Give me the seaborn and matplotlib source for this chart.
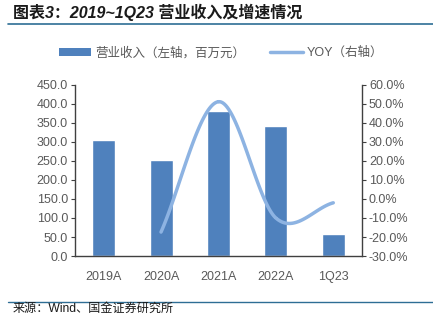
import numpy as np
import pandas as pd
import matplotlib
matplotlib.use("Agg")
import matplotlib.pyplot as plt
import seaborn as sns
from matplotlib.lines import Line2D
from matplotlib.patches import Patch

categories = ["2019A", "2020A", "2021A", "2022A", "1Q23"]
revenue = [305.0, 252.0, 381.0, 343.0, 57.0]
yoy = [np.nan, -17.4, 51.2, -10.0, -2.0]
left_ticks = [0, 50, 100, 150, 200, 250, 300, 350, 400, 450]
right_ticks = [-30, -20, -10, 0, 10, 20, 30, 40, 50, 60]

title = "图表3：2019~1Q23 营业收入及增速情况"
source = "来源：Wind、国金证券研究所"
legend_bar = "营业收入（左轴，百万元）"
legend_line = "YOY（右轴）"

sns.set_theme(style="white")
plt.rcParams["font.family"] = ["Liberation Sans", "Noto Sans CJK SC", "DejaVu Sans"]

BAR = "#4F81BD"
LINE = "#8DB3E2"
TXT = "#595959"
SPINE = "#404040"
MIX = ["Liberation Sans", "Noto Sans CJK SC", "DejaVu Sans"]

fig = plt.figure(figsize=(4.33, 3.25), dpi=100)
ax = fig.add_axes([0.173, 0.2123, 0.663, 0.5262])

df = pd.DataFrame({"cat": categories, "rev": revenue})
sns.barplot(data=df, x="cat", y="rev", color=BAR, width=0.4, ax=ax, saturation=1)
ax.set_ylim(0, 450)
ax.set_yticks(left_ticks)
ax.set_yticklabels([f"{v:.1f}" for v in left_ticks])
ax.set_xlabel("")
ax.set_ylabel("")
ax.set_xlim(-0.5, len(categories) - 0.5)

ax2 = ax.twinx()
# smoothed line through YOY points (Catmull-Rom, like Excel smoothing)
idx = [i for i, v in enumerate(yoy) if not np.isnan(v)]
px = np.array(idx, dtype=float)
py = np.array([yoy[i] for i in idx])
P = np.column_stack([px, py])
Pext = np.vstack([P[0] - (P[1] - P[0]), P, P[-1] + (P[-1] - P[-2])])
xs, ys = [], []
for k in range(1, len(Pext) - 2):
    p0, p1, p2, p3 = Pext[k - 1], Pext[k], Pext[k + 1], Pext[k + 2]
    t = np.linspace(0, 1, 40)[:, None]
    c = 0.5 * ((2 * p1) + (-p0 + p2) * t + (2 * p0 - 5 * p1 + 4 * p2 - p3) * t ** 2
               + (-p0 + 3 * p1 - 3 * p2 + p3) * t ** 3)
    xs.extend(c[:, 0]); ys.extend(c[:, 1])
sns.lineplot(x=xs, y=ys, ax=ax2, color=LINE, linewidth=2.5, sort=False,
             estimator=None, solid_capstyle="round")
ax2.set_ylim(-30, 60)
ax2.set_yticks(right_ticks)
ax2.set_yticklabels([f"{v:.1f}%" for v in right_ticks])
ax2.set_xlim(-0.5, len(categories) - 0.5)

for a in (ax, ax2):
    for s in a.spines.values():
        s.set_visible(False)
ax.spines["left"].set_visible(True)
ax.spines["bottom"].set_visible(True)
ax2.spines["right"].set_visible(True)
for s in (ax.spines["left"], ax.spines["bottom"], ax2.spines["right"]):
    s.set_color(SPINE)
    s.set_linewidth(1.0)

ax.tick_params(axis="y", which="both", left=True, length=3, width=0.8, color=SPINE,
               labelsize=9, labelcolor=TXT, pad=2)
ax.tick_params(axis="x", bottom=False, labelsize=9, labelcolor=TXT, pad=5)
ax2.tick_params(axis="y", right=True, length=3, width=0.8, color=SPINE,
                labelsize=9, labelcolor=TXT, pad=2)

# legend
handles = [Patch(facecolor=BAR, edgecolor="none"),
           Line2D([0], [0], color=LINE, linewidth=2.5)]
leg = fig.legend(handles, [legend_bar, legend_line], loc="center",
                 bbox_to_anchor=(0.51, 0.837), ncol=2, frameon=False,
                 labelcolor=TXT, handlelength=2.6, handleheight=0.6,
                 columnspacing=2.0, handletextpad=0.3,
                 prop={"family": MIX, "size": 9})

# title and rules
fig.text(0.030, 0.962, title, ha="left", va="center", fontsize=11.5,
         fontweight="bold", style="italic", color="#1a1a1a", family=MIX)
fig.add_artist(Line2D([0.018, 1.0], [1 - 24 / 325, 1 - 24 / 325], color="#2E6E95",
                      linewidth=1.2, transform=fig.transFigure))
fig.add_artist(Line2D([0.018, 1.0], [1 - 301.5 / 325, 1 - 301.5 / 325], color="#2E6E95",
                      linewidth=1.0, transform=fig.transFigure))
fig.text(0.028, 1 - 309 / 325, source, ha="left", va="center", fontsize=8.7,
         color="#1a1a1a", family=MIX)

fig.savefig("out.png", dpi=100)
